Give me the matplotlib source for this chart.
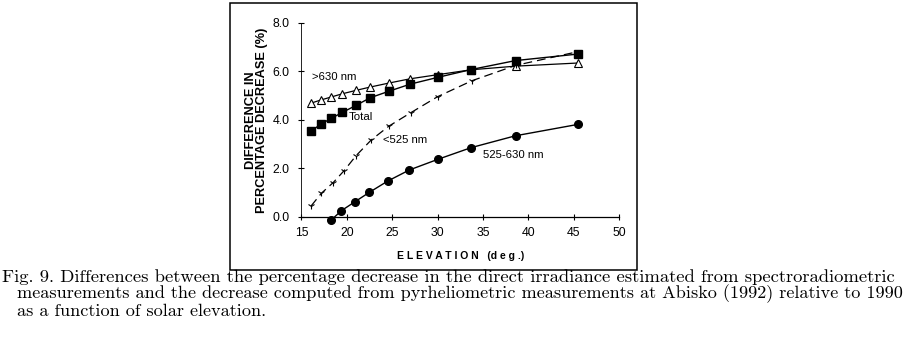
import matplotlib
matplotlib.use("Agg")
import matplotlib.pyplot as plt
from matplotlib.patches import Rectangle

# Data
elev_630 = [16.1, 17.1, 18.3, 19.5, 21.0, 22.6, 24.6, 27.0, 30.05, 33.7, 38.6, 45.5]
val_630 = [4.70, 4.82, 4.95, 5.08, 5.22, 5.36, 5.52, 5.70, 5.87, 6.07, 6.22, 6.35]

elev_total = [16.1, 17.1, 18.3, 19.5, 21.0, 22.6, 24.6, 27.0, 30.05, 33.7, 38.6, 45.5]
val_total = [3.55, 3.82, 4.07, 4.31, 4.60, 4.92, 5.18, 5.48, 5.76, 6.08, 6.45, 6.72]

elev_525 = [16.05, 17.2, 18.5, 19.7, 21.0, 22.7, 24.65, 27.05, 30.0, 33.8, 38.6, 45.5]
val_525 = [0.45, 0.98, 1.42, 1.91, 2.52, 3.18, 3.75, 4.30, 4.96, 5.62, 6.25, 6.82]

elev_mid = [18.3, 19.4, 20.9, 22.5, 24.5, 26.9, 30.05, 33.7, 38.6, 45.5]
val_mid = [-0.12, 0.26, 0.63, 1.02, 1.48, 1.94, 2.38, 2.86, 3.35, 3.82]

xticks = [15, 20, 25, 30, 35, 40, 45, 50]
yticks = [0.0, 2.0, 4.0, 6.0, 8.0]

caption = ["Fig. 9. Differences between the percentage decrease in the direct irradiance estimated from spectroradiometric",
           "measurements and the decrease computed from pyrheliometric measurements at Abisko (1992) relative to 1990",
           "as a function of solar elevation."]

fig = plt.figure(figsize=(9.08, 3.42), dpi=100)
ax = fig.add_axes([0.332, 0.3655, 0.3497, 0.5673])

ax.plot(elev_630, val_630, color="black", lw=0.9, marker="^", ms=5.8,
        mfc="white", mec="black", mew=0.8, clip_on=False)
ax.plot(elev_total, val_total, color="black", lw=1.0, marker="s", ms=5.5,
        mfc="black", mec="black", clip_on=False)
ax.plot(elev_525, val_525, color="black", lw=0.9, dashes=(7, 4), marker="1",
        ms=5, mew=0.8, clip_on=False)
ax.plot(elev_mid, val_mid, color="black", lw=1.0, marker="o", ms=5.5,
        mfc="black", mec="black", clip_on=False)

ax.set_xlim(15, 50)
ax.set_ylim(0, 8)
ax.set_xticks(xticks)
ax.set_yticks(yticks)
ax.set_xticklabels([str(t) for t in xticks], fontsize=8.8, family="Liberation Sans")
ax.set_yticklabels(["%.1f" % t for t in yticks], fontsize=8.8, family="Liberation Sans")
ax.tick_params(axis="both", direction="inout", length=5, width=0.8)
ax.tick_params(axis="x", pad=5)
ax.tick_params(axis="y", pad=6)
ax.spines["top"].set_visible(False)
ax.spines["right"].set_visible(False)
ax.spines["left"].set_linewidth(0.6)
ax.spines["bottom"].set_linewidth(0.9)

ax.set_xlabel("E L E V A T I O N   (d e g .)", fontsize=7.5, fontweight="bold",
              family="Liberation Sans", labelpad=8)
ax.set_ylabel("DIFFERENCE IN\nPERCENTAGE DECREASE (%)", fontsize=9.2,
              fontweight="bold", family="Liberation Sans", linespacing=0.95)
ax.yaxis.set_label_coords(-0.104, 0.5)

ax.text(16.2, 5.78, ">630 nm", fontsize=8.2, family="Liberation Sans", va="center")
ax.text(20.2, 4.13, "Total", fontsize=8.2, family="Liberation Sans", va="center")
ax.text(24.0, 3.18, "<525 nm", fontsize=8.2, family="Liberation Sans", va="center")
ax.text(35.0, 2.56, "525-630 nm", fontsize=8.2, family="Liberation Sans", va="center")

fig.patches.append(Rectangle((0.2533, 0.2105), 0.4482, 0.7807, transform=fig.transFigure,
                             fill=False, ec="black", lw=1.1))

ys = [277, 294, 311]
xs = [2, 17, 17]
sizes = [13.4, 13.1, 13.1]
for line, y, x, s in zip(caption, ys, xs, sizes):
    fig.text(x / 908, 1 - y / 342, line, fontsize=s, family="cmr10",
             va="center", ha="left")

fig.savefig("out.png", dpi=100)
